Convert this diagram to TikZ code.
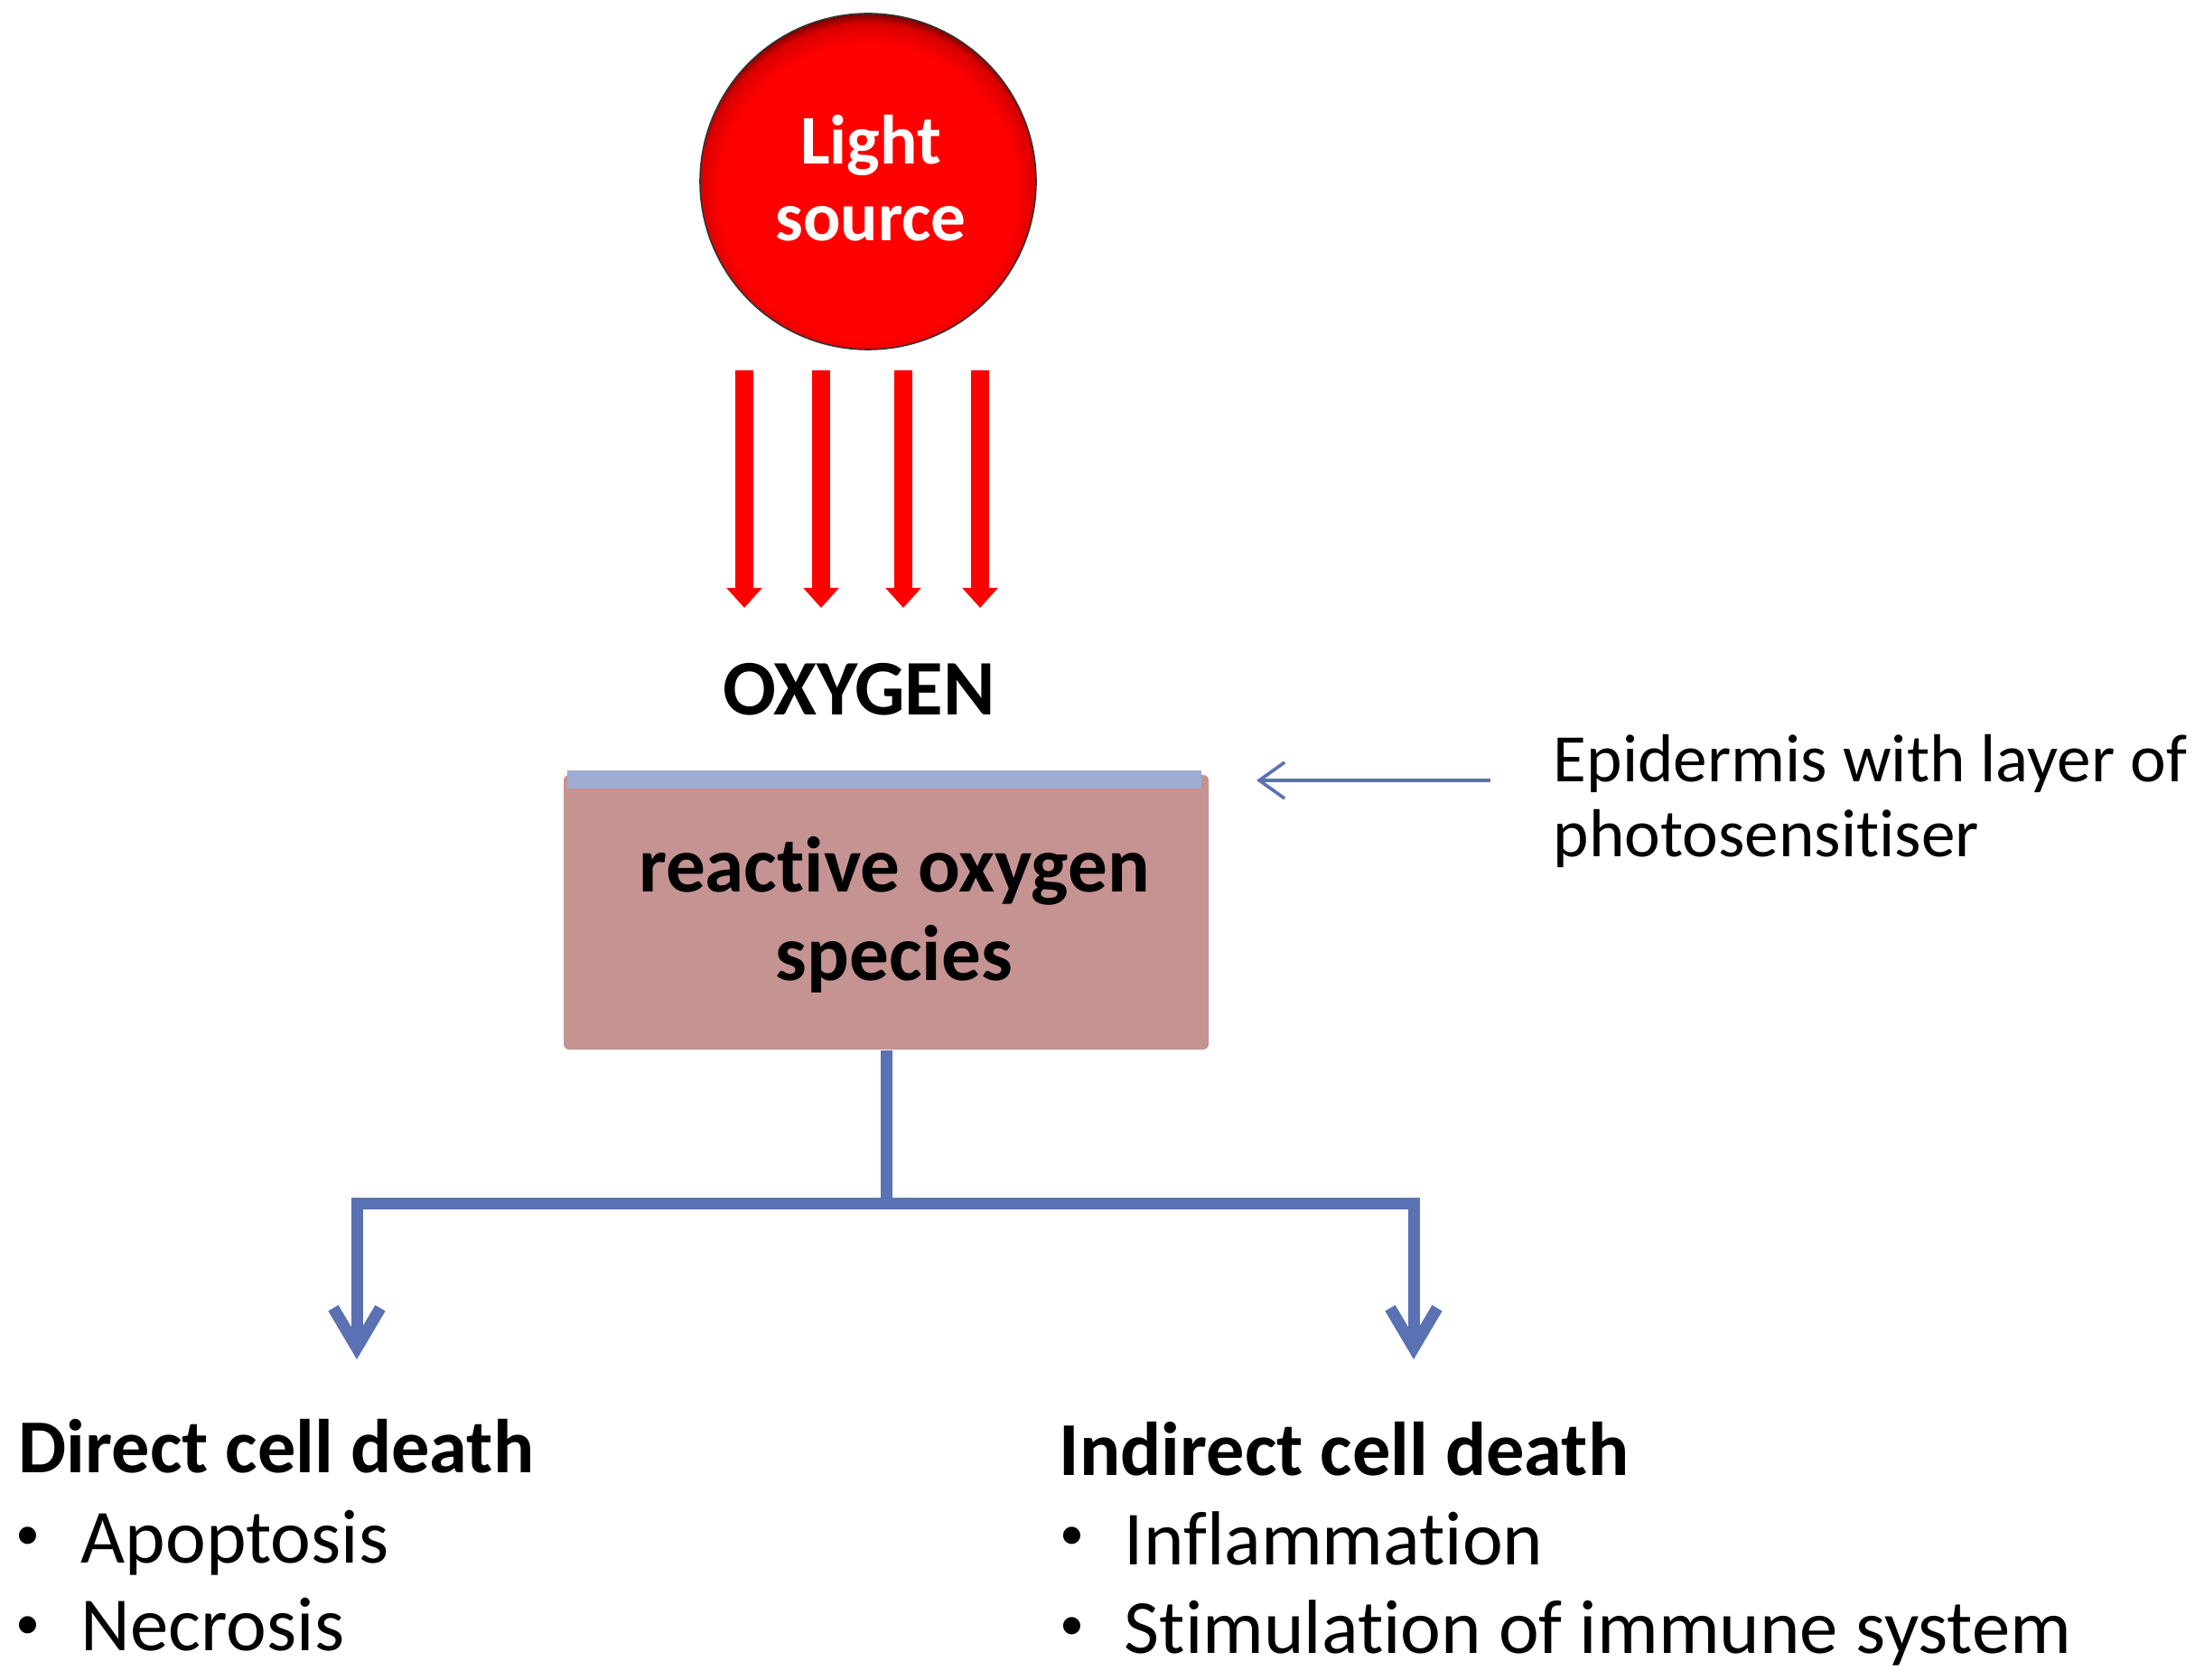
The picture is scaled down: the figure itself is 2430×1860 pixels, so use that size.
\documentclass[tikz,border=0pt]{standalone}
\usepackage{fontspec}
\setmainfont{Carlito}[Ligatures={NoCommon,NoContextual},Contextuals=NoAlternate]
\usetikzlibrary{arrows.meta}
\definecolor{boxpink}{RGB}{197,147,145}
\definecolor{stripblue}{RGB}{157,173,209}
\definecolor{flowblue}{RGB}{90,114,180}
\pgfdeclareradialshading{redrim}{\pgfpoint{0bp}{-3bp}}{color(0bp)=(red); color(22bp)=(red); color(25bp)=(red!85!black); color(27bp)=(red!30!black); color(50bp)=(red!30!black)}
\begin{document}
\begin{tikzpicture}[x=0.25pt,y=-0.25pt,
  txt/.style={inner sep=0pt, font=\fontsize{21.2pt}{25pt}\selectfont},
  btxt/.style={inner sep=0pt, font=\fontsize{21.1pt}{25pt}\selectfont\bfseries},
  bigbtxt/.style={inner sep=0pt, font=\fontsize{21.8pt}{25pt}\selectfont\bfseries},
  epitxt/.style={inner sep=0pt, font=\fontsize{18.8pt}{22pt}\selectfont},
  srctxt/.style={inner sep=0pt, text=white, font=\fontsize{19.3pt}{23pt}\selectfont\bfseries},
  bul/.style={inner sep=0pt, font=\fontsize{13.5pt}{15pt}\selectfont},
  ray/.style={draw=red, line width=5pt, -{Triangle[width=9.5pt,length=5.5pt]}},
  flow/.style={draw=flowblue, line width=3.25pt},
  flowtip/.style={flow, -{Straight Barb[length=11pt,width=13pt]}},
  pointer/.style={draw=flowblue, line width=0.9pt, -{Straight Barb[length=7pt,width=10pt]}}
]
\useasboundingbox[fill=white] (0,0) rectangle (2430,1860);

% light source
\node[circle, minimum size=93pt, inner sep=0pt, shading=redrim, draw=black!80, line width=0.4pt] (src) at (961,201) {};
\node[srctxt, anchor=base] (light1) at (964,182) {Light};
\node[srctxt, anchor=base] (light2) at (964,267) {source};

% light rays
\foreach \x [count=\i] in {824,909,1000,1085} {
  \coordinate (r\i s) at (\x,410);
  \coordinate (r\i e) at (\x,673);
  \draw[ray] (r\i s) -- (r\i e);
}

\node[bigbtxt, anchor=base] (oxy) at (951,792) {OXYGEN};

% reactive oxygen species box
\node[fill=boxpink, rounded corners=1.5pt, minimum width=178.5pt, minimum height=76pt, inner sep=0pt] (ros) at (981,1010) {};
\node[fill=stripblue, minimum width=175.5pt, minimum height=5pt, inner sep=0pt] (epi) at (979,863) {};
\node[bigbtxt, anchor=base] (ros1) at (990,987) {reactive oxygen};
\node[bigbtxt, anchor=base] (ros2) at (990,1085) {species};

% epidermis label
\coordinate (ps) at (1650,864);
\coordinate (pe) at (1391,864);
\draw[pointer] (ps) -- (pe);
\node[epitxt, anchor=base west] (epil1) at (1719,866) {Epidermis with layer of};
\node[epitxt, anchor=base west] (epil2) at (1719,948) {photosensitiser};

% branches
\coordinate (j) at (981,1332);
\coordinate (dl) at (395,1505);
\coordinate (dr) at (1565,1505);
\draw[flow] (ros.south) -- (j);
\draw[flowtip] (j) -| (dl);
\draw[flowtip] (j) -| (dr);

% direct
\node[btxt, anchor=base west] (dir) at (20,1630) {Direct cell death};
\node[bul] (db1) at (31,1703) {•};
\node[txt, anchor=base west] (dt1) at (89,1730) {Apoptosis};
\node[bul] (db2) at (31,1802) {•};
\node[txt, anchor=base west] (dt2) at (89,1827) {Necrosis};

% indirect
\node[btxt, anchor=base west] (ind) at (1172,1633) {Indirect cell death};
\node[bul] (ib1) at (1187,1703) {•};
\node[txt, anchor=base west] (it1) at (1244,1732) {Inflammation};
\node[bul] (ib2) at (1187,1803) {•};
\node[txt, anchor=base west] (it2) at (1244,1830) {Stimulation of immune system};
\end{tikzpicture}
\end{document}
